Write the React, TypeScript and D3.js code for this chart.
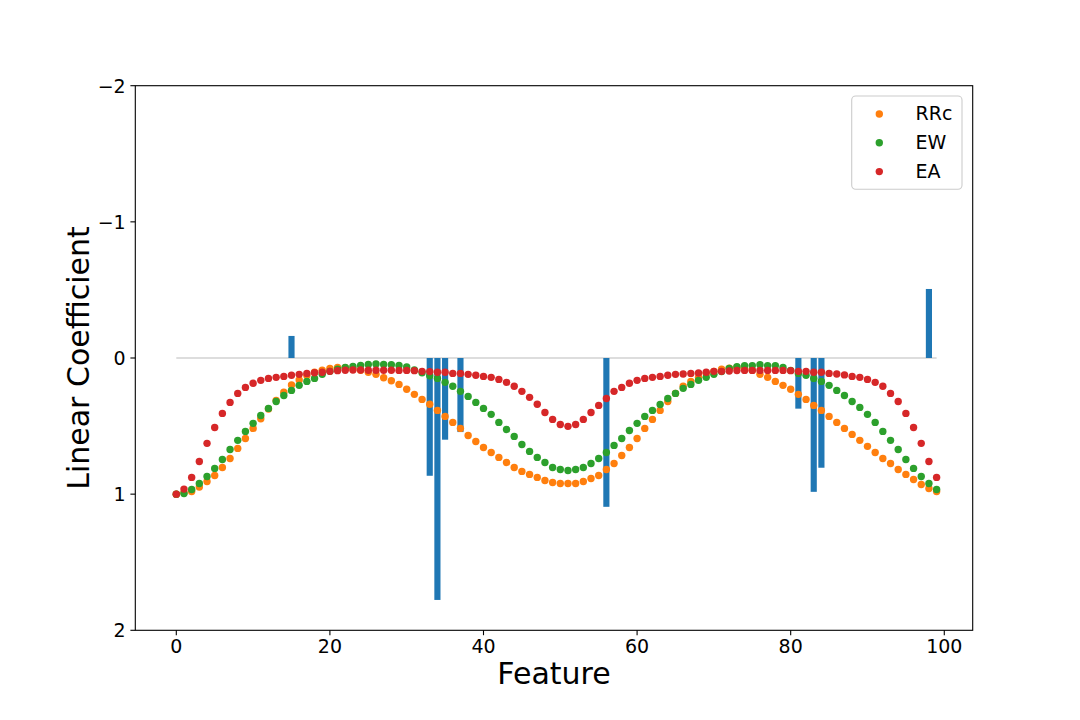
import React from "react";
import * as d3 from "d3";

// feature index 0..99, one value per feature for each method
const rrc = [
  1.0, 0.99, 0.98, 0.948, 0.907, 0.863, 0.804, 0.738, 0.664, 0.591,
  0.517, 0.446, 0.375, 0.311, 0.252, 0.198, 0.162, 0.128, 0.105, 0.09,
  0.076, 0.07, 0.072, 0.08, 0.09, 0.105, 0.12, 0.145, 0.167, 0.194,
  0.23, 0.267, 0.304, 0.34, 0.385, 0.429, 0.473, 0.517, 0.569, 0.613,
  0.657, 0.694, 0.73, 0.767, 0.804, 0.833, 0.855, 0.877, 0.9, 0.914,
  0.922, 0.922, 0.922, 0.907, 0.885, 0.863, 0.819, 0.775, 0.716, 0.657,
  0.591, 0.517, 0.451, 0.385, 0.319, 0.26, 0.208, 0.172, 0.142, 0.113,
  0.098, 0.083, 0.075, 0.07, 0.075, 0.09, 0.12, 0.142, 0.172, 0.201,
  0.23, 0.267, 0.304, 0.348, 0.385, 0.429, 0.473, 0.517, 0.561, 0.605,
  0.649, 0.694, 0.738, 0.775, 0.819, 0.855, 0.892, 0.929, 0.958, 0.98,
];

const ew = [
  1.0, 0.995, 0.966, 0.922, 0.87, 0.811, 0.745, 0.672, 0.605, 0.539,
  0.48, 0.422, 0.37, 0.319, 0.275, 0.238, 0.201, 0.172, 0.15, 0.12,
  0.098, 0.083, 0.069, 0.062, 0.055, 0.048, 0.044, 0.048, 0.049, 0.055,
  0.066, 0.088, 0.108, 0.13, 0.15, 0.179, 0.208, 0.245, 0.282, 0.326,
  0.37, 0.414, 0.473, 0.525, 0.576, 0.635, 0.686, 0.73, 0.767, 0.804,
  0.819, 0.826, 0.819, 0.804, 0.775, 0.738, 0.694, 0.642, 0.591, 0.532,
  0.48, 0.429, 0.385, 0.341, 0.297, 0.26, 0.223, 0.194, 0.164, 0.142,
  0.12, 0.1, 0.076, 0.064, 0.056, 0.056, 0.049, 0.056, 0.056, 0.069,
  0.091, 0.113, 0.127, 0.15, 0.172, 0.201, 0.238, 0.275, 0.319, 0.363,
  0.414, 0.473, 0.539, 0.605, 0.672, 0.745, 0.811, 0.87, 0.922, 0.966,
];

const ea = [
  1.0, 0.963, 0.877, 0.76, 0.627, 0.51, 0.407, 0.326, 0.26, 0.216,
  0.186, 0.164, 0.15, 0.142, 0.135, 0.127, 0.12, 0.113, 0.108, 0.105,
  0.098, 0.093, 0.09, 0.088, 0.088, 0.09, 0.09, 0.09, 0.09, 0.091,
  0.091, 0.093, 0.098, 0.1, 0.105, 0.105, 0.113, 0.113, 0.12, 0.127,
  0.135, 0.142, 0.157, 0.179, 0.208, 0.245, 0.289, 0.34, 0.4, 0.451,
  0.488, 0.502, 0.488, 0.451, 0.4, 0.348, 0.297, 0.245, 0.216, 0.186,
  0.164, 0.15, 0.142, 0.135, 0.127, 0.12, 0.117, 0.113, 0.11, 0.105,
  0.098, 0.098, 0.096, 0.092, 0.091, 0.091, 0.091, 0.091, 0.091, 0.091,
  0.093, 0.098, 0.098, 0.105, 0.105, 0.113, 0.118, 0.124, 0.135, 0.142,
  0.157, 0.179, 0.208, 0.26, 0.319, 0.407, 0.51, 0.627, 0.76, 0.877,
];

// true (sparse) coefficients, drawn as bars
const coefFeatures = [15, 33, 34, 35, 37, 56, 81, 83, 84, 98];
const coefValues = [-0.162, 0.865, 1.777, 0.6, 0.544, 1.093, 0.372, 0.983, 0.806, -0.507];

const xTicks = [0, 20, 40, 60, 80, 100];
const yTicks = [-2, -1, 0, 1, 2];

const series = [
  { name: "RRc", values: rrc, color: "#ff7f0e" },
  { name: "EW", values: ew, color: "#2ca02c" },
  { name: "EA", values: ea, color: "#d62728" },
];

const W = 1080;
const H = 720;
const left = 135.3;
const right = 972.7;
const top = 85.7;
const bottom = 630.3;

export default function App() {
  const x = d3.scaleLinear().domain([-5.339, 103.7]).range([left, right]);
  const y = d3.scaleLinear().domain([-2, 2]).range([top, bottom]);
  const barW = x(0.8) - x(0);
  const font = "'DejaVu Sans', sans-serif";
  const fmt = (v: number) => (v < 0 ? "\u2212" + Math.abs(v) : String(v));

  const zeroLine = d3.line<number>()
    .x((d) => x(d))
    .y(() => y(0));

  return (
    <svg
      width={W}
      height={H}
      style={{ position: "absolute", left: 0, top: 0, background: "#fff" }}
      fontFamily={font}
    >
      <path d={zeroLine([0, 99]) || ""} stroke="#dddddd" strokeWidth={2.2} fill="none" />

      {coefFeatures.map((f, i) => {
        const v = coefValues[i];
        return (
          <rect
            key={"b" + f}
            x={x(f) - barW / 2}
            y={y(Math.min(0, v))}
            width={barW}
            height={Math.abs(y(v) - y(0))}
            fill="#1f77b4"
          />
        );
      })}

      {series.map((s) => (
        <g key={s.name} fill={s.color}>
          {s.values.map((v, i) => (
            <circle key={i} cx={x(i)} cy={y(v)} r={3.7} />
          ))}
        </g>
      ))}

      {/* spines */}
      <rect x={left} y={top} width={right - left} height={bottom - top} fill="none" stroke="#000" strokeWidth={1.1} />

      {xTicks.map((t) => (
        <g key={"x" + t} transform={`translate(${x(t)},${bottom})`}>
          <line y2={4.9} stroke="#000" strokeWidth={1.1} />
          <text y={22.3} textAnchor="middle" fontSize={19} fill="#000">
            {t}
          </text>
        </g>
      ))}

      {yTicks.map((t) => (
        <g key={"y" + t} transform={`translate(${left},${y(t)})`}>
          <line x2={-4.9} stroke="#000" strokeWidth={1.1} />
          <text x={-9.6} y={6.9} textAnchor="end" fontSize={19} fill="#000">
            {fmt(t)}
          </text>
        </g>
      ))}

      <text x={(left + right) / 2} y={684} textAnchor="middle" fontSize={30} fill="#000">
        Feature
      </text>
      <text
        transform={`translate(88.8,${(top + bottom) / 2}) rotate(-90)`}
        textAnchor="middle"
        fontSize={30}
        fill="#000"
      >
        Linear Coefficient
      </text>

      {/* legend */}
      <rect x={851.7} y={96} width={110.3} height={93.3} rx={4} fill="#fff" fillOpacity={0.8} stroke="#cccccc" strokeWidth={1.1} />
      {series.map((s, i) => (
        <g key={"l" + s.name} transform={`translate(0,${i * 28.8})`}>
          <circle cx={879.3} cy={114} r={3.7} fill={s.color} />
          <text x={915.5} y={120.3} fontSize={19} fill="#000">
            {s.name}
          </text>
        </g>
      ))}
    </svg>
  );
}
